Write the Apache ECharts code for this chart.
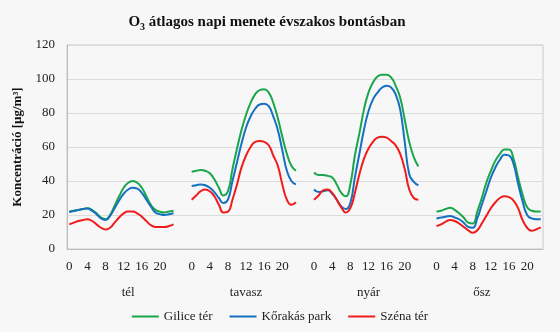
<!DOCTYPE html>
<html>
<head>
<meta charset="utf-8">
<script src="https://cdn.jsdelivr.net/npm/echarts@6/dist/echarts.min.js"></script>
<style>
  html, body { margin: 0; padding: 0; background: #f7f7f7; }
  #chart { width: 560px; height: 332px; }
</style>
</head>
<body>
<div id="chart"></div>
<script>
// Seasons and the hour labels shown under each block
const seasons = ['tél', 'tavasz', 'nyár', 'ősz'];
const hours = [0, 1, 2, 3, 4, 5, 6, 7, 8, 9, 10, 11, 12, 13, 14, 15, 16, 17, 18, 19, 20, 21, 22, 23];
const hourTicks = [0, 4, 8, 12, 16, 20];
const yTicks = [0, 20, 40, 60, 80, 100, 120];

// Hourly mean O3 concentration [µg/m³] per season
const giliceTel    = [22, 22.5, 23, 23.5, 24, 23, 21, 18.5, 17.5, 20, 25.5, 31, 36, 39, 40, 39, 36, 31, 26, 23, 22, 21.5, 22, 22.5];
const giliceTavasz = [45.5, 46, 46.5, 46, 44.5, 41, 36, 31.5, 34, 47, 59, 70, 79, 86, 91, 93.5, 94, 92, 86, 77, 66, 56, 49, 46];
const giliceNyar   = [45, 43.5, 43.5, 43, 42, 38, 33, 31, 38, 55, 68, 82, 92, 98, 101.5, 102.5, 102.5, 101, 96, 89, 76, 63, 54, 48.5];
const giliceOsz    = [22, 22.5, 23.5, 24.3, 23, 21, 18.5, 15.5, 15, 22, 30, 39, 46, 52, 56, 58.5, 58.5, 53, 42, 32, 24.5, 22.5, 22, 22];

const korakasTel    = [21.8, 22.3, 23, 23.5, 23.8, 22.5, 20.5, 18, 17, 19.5, 24, 28.5, 32.5, 35, 36, 35.5, 33, 29, 25, 21.5, 20.5, 20, 20.5, 21];
const korakasTavasz = [37, 37.5, 38, 37.5, 36, 33.5, 30, 27, 29, 40, 51, 62, 71.5, 78, 82.5, 85, 85.5, 84, 78, 70, 58, 46, 40, 38];
const korakasNyar   = [35, 33.5, 34, 34.5, 32.5, 29, 25, 23.5, 27, 42, 56, 70, 81, 88, 92, 95, 96, 95, 91, 82, 63, 44, 39.5, 37.5];
const korakasOsz    = [18, 18.5, 19, 19.4, 18.5, 17.5, 15.5, 13, 12.5, 18, 26, 34, 42, 48, 52.5, 55.5, 55, 50, 38.5, 28, 20, 18, 17.5, 17.5];

const szenaTel    = [14.5, 15.5, 16.5, 17, 17.5, 16.5, 14.5, 12.5, 11.5, 12.5, 15.5, 18.5, 21, 22, 22, 21, 19, 16.5, 14, 13, 13, 13, 13.5, 14.5];
const szenaTavasz = [29, 31.5, 34, 35, 34, 31, 26, 21.5, 22, 29, 38, 48, 55, 60, 63, 63.5, 63, 61, 55, 49, 38, 29, 26, 27.5];
const szenaNyar   = [29, 31.5, 34.5, 35, 33, 29, 24.5, 21.5, 24, 33, 44, 53, 59, 63, 65.5, 66, 65.5, 63.5, 61, 56, 47, 35, 30, 29];
const szenaOsz    = [13.5, 14.5, 16, 17, 16.5, 15, 13, 11, 9.5, 11, 15, 19.5, 24, 27.5, 30, 31, 30.5, 28.5, 24, 17, 12.5, 10.7, 11.5, 12.7];

const seriesNames = ['Gilice tér', 'Kőrakás park', 'Széna tér'];
const seriesColors = ['#1aa64a', '#1570c0', '#f01c1c'];

// Empty slots separating the season blocks on the category axis
const GAP = 3;

const categories = [];
seasons.forEach((s, si) => {
  hours.forEach(h => categories.push(s + '|' + h));
  if (si < seasons.length - 1) {
    for (let k = 0; k < GAP; k++) categories.push(s + '|gap' + k);
  }
});

// Category index under which each season name is written
const seasonLabelIdx = {};
seasons.forEach((s, si) => {
  const idx = si * (hours.length + GAP) + (si === seasons.length - 1 ? 10 : 12) + (si === 0 ? 1 : 0);
  seasonLabelIdx[idx] = s;
});

function joinSeasons(parts) {
  const out = [];
  parts.forEach((arr, si) => {
    arr.forEach(v => out.push(v));
    if (si < parts.length - 1) {
      for (let k = 0; k < GAP; k++) out.push(null);
    }
  });
  return out;
}

const seriesData = [
  joinSeasons([giliceTel, giliceTavasz, giliceNyar, giliceOsz]),
  joinSeasons([korakasTel, korakasTavasz, korakasNyar, korakasOsz]),
  joinSeasons([szenaTel, szenaTavasz, szenaNyar, szenaOsz])
];

const serif = '"Liberation Serif", "DejaVu Serif", serif';

const chart = echarts.init(document.getElementById('chart'), null, { renderer: 'canvas' });

chart.setOption({
  backgroundColor: '#f7f7f7',
  animation: false,
  title: {
    text: '{a|O}{s|3}{a| átlagos napi menete évszakos bontásban}',
    left: 262,
    textAlign: 'center',
    top: 7,
    textStyle: {
      rich: {
        a: { fontFamily: serif, fontWeight: 'bold', fontSize: 15, color: '#111', lineHeight: 20 },
        s: { fontFamily: serif, fontWeight: 'bold', fontSize: 10, color: '#111', lineHeight: 10, verticalAlign: 'bottom' }
      }
    }
  },
  legend: {
    data: seriesNames,
    left: 'center',
    top: 305,
    icon: 'rect',
    itemWidth: 27,
    itemHeight: 2,
    itemGap: 17,
    textStyle: { fontFamily: serif, fontSize: 13, color: '#222' }
  },
  grid: {
    left: 67,
    right: 17,
    top: 45,
    bottom: 83,
    show: true,
    borderColor: '#c9c9c9',
    borderWidth: 1,
    backgroundColor: 'transparent'
  },
  xAxis: [
    {
      type: 'category',
      data: categories,
      boundaryGap: true,
      axisLine: { show: true, lineStyle: { color: '#bdbdbd' } },
      axisTick: { show: false },
      axisLabel: {
        interval: (i, v) => {
          const h = Number(v.split('|')[1]);
          return !isNaN(h) && hourTicks.indexOf(h) >= 0;
        },
        formatter: v => v.split('|')[1],
        fontFamily: serif,
        fontSize: 13,
        color: '#222',
        margin: 11
      },
      splitLine: { show: false }
    },
    {
      type: 'category',
      data: categories,
      position: 'bottom',
      offset: 27,
      axisLine: { show: false },
      axisTick: { show: false },
      axisLabel: {
        interval: i => seasonLabelIdx[i] !== undefined,
        formatter: (v, i) => seasonLabelIdx[i] || '',
        fontFamily: serif,
        fontSize: 13,
        color: '#222',
        margin: 10
      },
      splitLine: { show: false }
    }
  ],
  yAxis: {
    type: 'value',
    min: yTicks[0],
    max: yTicks[yTicks.length - 1],
    interval: 20,
    name: 'Koncentráció [µg/m³]',
    nameLocation: 'middle',
    nameGap: 39,
    nameTextStyle: { fontFamily: serif, fontWeight: 'bold', fontSize: 13, color: '#111' },
    axisLine: { show: true, lineStyle: { color: '#bdbdbd' } },
    axisTick: { show: false },
    axisLabel: { fontFamily: serif, fontSize: 13, color: '#222', margin: 12 },
    splitLine: { show: true, lineStyle: { color: '#dcdcdc', width: 1 } }
  },
  series: seriesNames.map((name, i) => ({
    name: name,
    type: 'line',
    xAxisIndex: 0,
    data: seriesData[i],
    smooth: 0.5,
    connectNulls: false,
    showSymbol: false,
    symbol: 'none',
    lineStyle: { color: seriesColors[i], width: 2 },
    itemStyle: { color: seriesColors[i] }
  }))
});
</script>
</body>
</html>
